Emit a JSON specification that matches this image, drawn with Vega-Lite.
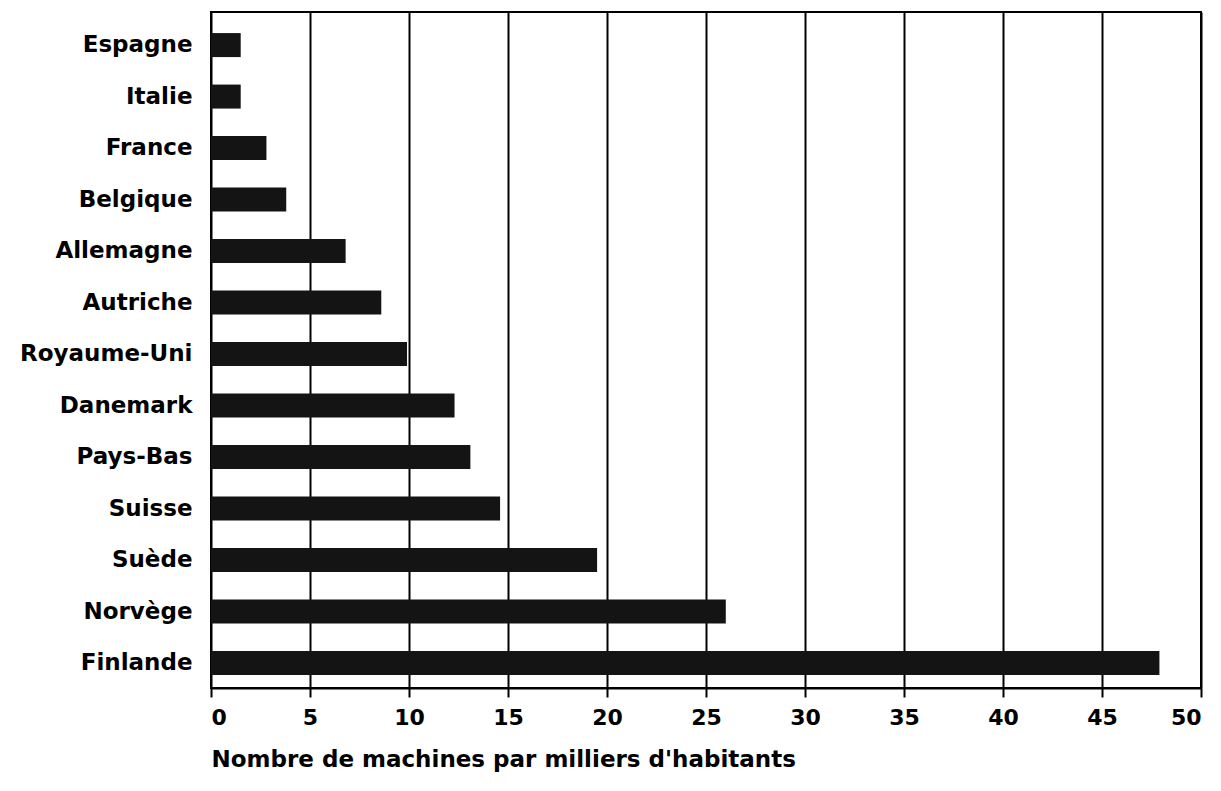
{
  "$schema": "https://vega.github.io/schema/vega-lite/v6.json",
  "width": 990,
  "height": 676,
  "autosize": "none",
  "padding": {"left": 211, "top": 12, "right": 20, "bottom": 103},
  "background": "white",
  "data": {"values": [
    {"pays": "Espagne", "valeur": 1.5},
    {"pays": "Italie", "valeur": 1.5},
    {"pays": "France", "valeur": 2.8},
    {"pays": "Belgique", "valeur": 3.8},
    {"pays": "Allemagne", "valeur": 6.8},
    {"pays": "Autriche", "valeur": 8.6},
    {"pays": "Royaume-Uni", "valeur": 9.9},
    {"pays": "Danemark", "valeur": 12.3},
    {"pays": "Pays-Bas", "valeur": 13.1},
    {"pays": "Suisse", "valeur": 14.6},
    {"pays": "Suède", "valeur": 19.5},
    {"pays": "Norvège", "valeur": 26.0},
    {"pays": "Finlande", "valeur": 47.9}
  ]},
  "mark": {"type": "bar", "color": "#141414"},
  "encoding": {
    "y": {
      "field": "pays", "type": "nominal", "sort": null,
      "scale": {"paddingInner": 0.534, "paddingOuter": 0.33, "align": 0.62},
      "axis": {"title": null, "ticks": false, "domain": false, "labelPadding": 19,
               "labelFont": "DejaVu Sans", "labelFontWeight": "bold", "labelFontSize": 23, "labelColor": "black"}
    },
    "x": {
      "field": "valeur", "type": "quantitative",
      "scale": {"domain": [0, 50], "nice": false},
      "axis": {"values": [0,5,10,15,20,25,30,35,40,45,50], "grid": true, "gridColor": "black", "gridWidth": 2, "gridOpacity": 1,
               "domain": true, "domainColor": "black", "domainWidth": 2,
               "ticks": true, "tickColor": "black", "tickWidth": 2, "tickSize": 9,
               "labelPadding": 10, "labelFont": "DejaVu Sans", "labelFontWeight": "bold", "labelFontSize": 22, "labelColor": "black",
               "title": "Nombre de machines par milliers d'habitants", "titleFont": "DejaVu Sans", "titleFontWeight": "bold", "titleFontSize": 23,
               "titleColor": "black", "titleAnchor": "start", "titleAlign": "left", "titlePadding": 20}
    }
  },
  "config": {"view": {"stroke": "black", "strokeWidth": 2}}
}
